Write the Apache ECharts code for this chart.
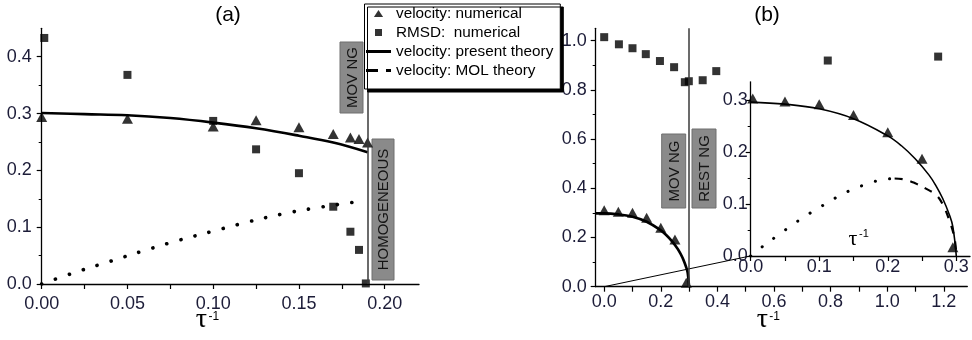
<!DOCTYPE html>
<html>
<head>
<meta charset="utf-8">
<script src="https://cdn.jsdelivr.net/npm/echarts@6/dist/echarts.min.js"></script>
<style>html,body{margin:0;padding:0;background:#fff}#c{width:972px;height:340px}</style>
</head>
<body>
<div id="c"></div>
<script>
// ---------- data ----------
// panel (a)
const aTriX = [0.0, 0.05, 0.10, 0.125, 0.15, 0.17, 0.18, 0.185, 0.19];
const aTriY = [0.294, 0.291, 0.277, 0.288, 0.276, 0.264, 0.258, 0.255, 0.249];
const aSqX = [0.0015, 0.05, 0.10, 0.125, 0.15, 0.170, 0.180, 0.185, 0.189];
const aSqY = [0.433, 0.368, 0.287, 0.237, 0.195, 0.136, 0.092, 0.060, 0.001];
const aThX = [0, 0.025, 0.05, 0.075, 0.10, 0.125, 0.15, 0.17, 0.19];
const aThY = [0.301, 0.299, 0.297, 0.292, 0.284, 0.274, 0.261, 0.249, 0.232];
const aMolX = [0, 0.02, 0.04, 0.06, 0.08, 0.10, 0.12, 0.14, 0.16, 0.18, 0.185];
const aMolY = [0, 0.021, 0.040, 0.059, 0.077, 0.093, 0.109, 0.123, 0.134, 0.143, 0.145];
const aBoundary = 0.19;
// panel (b) main
const bSqX = [0, 0.052, 0.10, 0.147, 0.197, 0.247, 0.285, 0.299, 0.348, 0.396, 0.79, 1.18];
const bSqY = [1.014, 0.985, 0.969, 0.945, 0.917, 0.892, 0.831, 0.835, 0.839, 0.876, 0.919, 0.935];
const bTriX = [0, 0.05, 0.10, 0.15, 0.20, 0.25, 0.29];
const bTriY = [0.311, 0.305, 0.301, 0.280, 0.240, 0.192, 0.016];
const bThX = [-0.03, 0, 0.05, 0.10, 0.15, 0.20, 0.22, 0.24, 0.26, 0.27, 0.28, 0.29, 0.295, 0.30];
const bThY = [0.298, 0.298, 0.294, 0.284, 0.264, 0.229, 0.209, 0.184, 0.153, 0.133, 0.109, 0.078, 0.056, 0];
const bLinkX = [0, 0.517];
const bLinkY = [0, 0.125];
const bBoundary = 0.30;
// panel (b) inset
const inTriX = [0.003, 0.05, 0.10, 0.15, 0.20, 0.25, 0.295];
const inTriY = [0.303, 0.297, 0.292, 0.271, 0.238, 0.187, 0.017];
const inThX = [0, 0.05, 0.10, 0.15, 0.20, 0.22, 0.24, 0.26, 0.27, 0.28, 0.29, 0.295, 0.30];
const inThY = [0.296, 0.292, 0.283, 0.264, 0.231, 0.212, 0.187, 0.156, 0.136, 0.111, 0.079, 0.056, 0];
const inMolDotX = [0, 0.02, 0.04, 0.06, 0.08, 0.10, 0.12, 0.14, 0.16, 0.18, 0.20, 0.21];
const inMolDotY = [0, 0.021, 0.040, 0.059, 0.077, 0.093, 0.109, 0.123, 0.134, 0.143, 0.148, 0.149];
const inMolDashX = [0.21, 0.225, 0.24, 0.255, 0.27, 0.28, 0.29, 0.297, 0.30];
const inMolDashY = [0.149, 0.147, 0.140, 0.130, 0.118, 0.100, 0.068, 0.037, 0.005];
// ticks
const aXTicks = [0, 0.05, 0.10, 0.15, 0.20];
const aXMinor = [0.025, 0.075, 0.125, 0.175];
const aYTicks = [0, 0.1, 0.2, 0.3, 0.4];
const aYMinor = [0.05, 0.15, 0.25, 0.35];
const bXTicks = [0, 0.2, 0.4, 0.6, 0.8, 1.0, 1.2];
const bXMinor = [0.1, 0.3, 0.5, 0.7, 0.9, 1.1];
const bYTicks = [0, 0.2, 0.4, 0.6, 0.8, 1.0];
const bYMinor = [0.1, 0.3, 0.5, 0.7, 0.9];
const inTicks = [0, 0.1, 0.2, 0.3];
const inMinor = [0.05, 0.15, 0.25];

const legendNames = ['velocity: numerical', 'RMSD:  numerical', 'velocity: present theory', 'velocity: MOL theory'];

// ---------- styles ----------
const SANS = 'Liberation Sans';
const LBL = '#1c1c38';
const pairs = (xs, ys) => xs.map((x, i) => [x, ys[i]]);

function axis(dim, grid, min, max, ticks, minor, digits, margin) {
  return {
    type: 'value', gridIndex: grid, min: min, max: max,
    position: dim === 'x' ? 'bottom' : 'left',
    axisLine: {show: true, onZero: false, lineStyle: {color: '#000', width: 1.3}},
    axisTick: {show: true, inside: false, length: 5,
      customValues: dim === 'x' ? ticks.concat(minor) : ticks, lineStyle: {color: '#000', width: 1.2}},
    axisLabel: {show: true, customValues: ticks, margin: margin, fontSize: 18, fontFamily: SANS, color: LBL,
      formatter: v => Number(v).toFixed(digits)},
    splitLine: {show: false}
  };
}
function minorAxis(grid, min, max, ticks) {
  return {
    type: 'value', gridIndex: grid, min: min, max: max, position: 'left',
    axisLine: {show: false, onZero: false},
    axisTick: {show: true, inside: false, length: 3, customValues: ticks, lineStyle: {color: '#000', width: 1}},
    axisLabel: {show: false},
    splitLine: {show: false}
  };
}

const xAxes = [
  axis('x', 0, 0, 0.22, aXTicks, aXMinor, 2, 11),
  axis('x', 1, -0.03, 1.283, bXTicks, bXMinor, 1, 6),
  axis('x', 2, 0, 0.32, inTicks, inMinor, 1, 2)
];
const yAxes = [
  axis('y', 0, 0, 0.45, aYTicks, aYMinor, 1, 10),
  axis('y', 1, 0, 1.05, bYTicks, bYMinor, 1, 9),
  axis('y', 2, 0, 0.335, inTicks, inMinor, 1, 3),
  minorAxis(0, 0, 0.45, aYMinor),
  minorAxis(1, 0, 1.05, bYMinor),
  minorAxis(2, 0, 0.335, inMinor)
];

const black = {color: '#000'};
function vline(x, ytop) {
  return {symbol: 'none', silent: true, label: {show: false},
    lineStyle: {color: '#3a3a3a', width: 1.5, type: 'solid'},
    data: [[{coord: [x, 0]}, {coord: [x, ytop]}]]};
}
const dots = w => ({color: '#000', width: w, type: [0.1, 14.5], cap: 'round'});

const series = [
  // panel (a)
  {type: 'line', name: legendNames[2], xAxisIndex: 0, yAxisIndex: 0, data: pairs(aThX, aThY), smooth: 0.4,
    symbol: 'none', itemStyle: black, lineStyle: {color: '#000', width: 2.6}, markLine: vline(aBoundary, 0.45), z: 3},
  {type: 'line', name: legendNames[3], xAxisIndex: 0, yAxisIndex: 0, data: pairs(aMolX, aMolY), smooth: 0.4,
    symbol: 'none', itemStyle: black, lineStyle: dots(3.6), z: 3},
  {type: 'scatter', name: legendNames[0], xAxisIndex: 0, yAxisIndex: 0, data: pairs(aTriX, aTriY),
    symbol: 'triangle', symbolSize: [11, 10], itemStyle: black, z: 4},
  {type: 'scatter', name: legendNames[1], xAxisIndex: 0, yAxisIndex: 0, data: pairs(aSqX, aSqY),
    symbol: 'rect', symbolSize: 8, itemStyle: black, z: 4},
  // panel (b) main
  {type: 'line', name: legendNames[2], xAxisIndex: 1, yAxisIndex: 1, data: pairs(bThX, bThY), smooth: 0.4,
    symbol: 'none', itemStyle: black, lineStyle: {color: '#000', width: 2.6}, markLine: vline(bBoundary, 1.05), z: 3},
  {type: 'line', xAxisIndex: 1, yAxisIndex: 1, data: pairs(bLinkX, bLinkY),
    symbol: 'none', itemStyle: black, lineStyle: {color: '#000', width: 1}, z: 3},
  {type: 'scatter', name: legendNames[0], xAxisIndex: 1, yAxisIndex: 1, data: pairs(bTriX, bTriY),
    symbol: 'triangle', symbolSize: [11, 10], itemStyle: black, z: 4},
  {type: 'scatter', name: legendNames[1], xAxisIndex: 1, yAxisIndex: 1, data: pairs(bSqX, bSqY),
    symbol: 'rect', symbolSize: 8, itemStyle: black, z: 4},
  // inset
  {type: 'line', name: legendNames[2], xAxisIndex: 2, yAxisIndex: 2, data: pairs(inThX, inThY), smooth: 0.4,
    symbol: 'none', itemStyle: black, lineStyle: {color: '#000', width: 1.6}, z: 3},
  {type: 'line', name: legendNames[3], xAxisIndex: 2, yAxisIndex: 2, data: pairs(inMolDotX, inMolDotY), smooth: 0.4,
    symbol: 'none', itemStyle: black, lineStyle: dots(3), z: 3},
  {type: 'line', name: legendNames[3], xAxisIndex: 2, yAxisIndex: 2, data: pairs(inMolDashX, inMolDashY), smooth: 0.4,
    symbol: 'none', itemStyle: black, lineStyle: {color: '#000', width: 2.2, type: [8, 8]}, z: 3},
  {type: 'scatter', name: legendNames[0], xAxisIndex: 2, yAxisIndex: 2, data: pairs(inTriX, inTriY),
    symbol: 'triangle', symbolSize: [11, 10], itemStyle: black, z: 4}
];

function tagBox(cx, cy, w, h, text) {
  return {type: 'group', z: 20, children: [
    {type: 'rect', shape: {x: cx - w / 2, y: cy - h / 2, width: w, height: h},
      style: {fill: '#8a8a8a', stroke: '#6e6e6e', lineWidth: 1}},
    {type: 'text', x: cx + 1, y: cy, rotation: Math.PI / 2,
      style: {text: text, fill: '#141414', font: '15px "Liberation Sans"', align: 'center', verticalAlign: 'middle'}}
  ]};
}
function tau(cx, cy, size, supSize, dx, dy) {
  return {type: 'group', z: 20, children: [
    {type: 'text', x: cx, y: cy, style: {text: 'τ', fill: '#000', font: size + 'px "Liberation Serif"', align: 'center', verticalAlign: 'middle'}},
    {type: 'text', x: cx + dx, y: cy + dy, style: {text: '-1', fill: '#000', font: supSize + 'px "Liberation Sans"', align: 'left', verticalAlign: 'middle'}}
  ]};
}

const option = {
  animation: false,
  backgroundColor: '#fff',
  grid: [
    {left: 41.7, top: 28.3, width: 377.3, height: 255.7, containLabel: false, outerBoundsMode: 'none'},
    {left: 595.7, top: 28.3, width: 371.6, height: 258.4, containLabel: false, outerBoundsMode: 'none'},
    {left: 750.7, top: 81.8, width: 219.3, height: 174.2, containLabel: false, outerBoundsMode: 'none'}
  ],
  xAxis: xAxes,
  yAxis: yAxes,
  legend: {
    left: 364.5, top: 4, orient: 'vertical', selectedMode: false,
    backgroundColor: '#fff', borderColor: '#000', borderWidth: 1, borderRadius: 0,
    shadowColor: '#000', shadowBlur: 0, shadowOffsetX: 3, shadowOffsetY: 3,
    padding: [2, 7, 11, 0], itemGap: 4, itemWidth: 25, itemHeight: 10, symbolKeepAspect: true,
    textStyle: {fontSize: 15.3, fontFamily: SANS, color: '#000'},
    data: [
      {name: legendNames[0], icon: 'path://M0,0M10,10M0.4,8.6L5,1.4L9.6,8.6Z', itemStyle: {color: '#000'}},
      {name: legendNames[1], icon: 'path://M0,0M10,10M1.5,1.5L8.5,1.5L8.5,8.5L1.5,8.5Z', itemStyle: {color: '#000'}},
      {name: legendNames[2], itemStyle: {opacity: 0}, lineStyle: {width: 3, color: '#000', type: 'solid'}},
      {name: legendNames[3], itemStyle: {opacity: 0}, lineStyle: {type: [12, 8], width: 3, color: '#000', cap: 'butt'}}
    ],
    z: 10
  },
  graphic: [
    {type: 'text', x: 228, y: 15, z: 20, style: {text: '(a)', fill: '#000', font: '21px "Liberation Sans"', align: 'center', verticalAlign: 'middle'}},
    {type: 'text', x: 767, y: 15, z: 20, style: {text: '(b)', fill: '#000', font: '21px "Liberation Sans"', align: 'center', verticalAlign: 'middle'}},
    tagBox(351.5, 77.5, 23, 71, 'MOV NG'),
    tagBox(383, 209.5, 22, 141, 'HOMOGENEOUS'),
    tagBox(673.7, 171, 24, 74, 'MOV NG'),
    tagBox(704, 168.5, 24, 79, 'REST NG'),
    tau(201.5, 320, 28, 12, 7, -3),
    tau(762.3, 320, 28, 12, 7, -3),
    tau(853, 239, 22, 11, 6, -5)
  ],
  series: series
};

const chart = echarts.init(document.getElementById('c'), null, {renderer: 'canvas'});
chart.setOption(option);
</script>
</body>
</html>
